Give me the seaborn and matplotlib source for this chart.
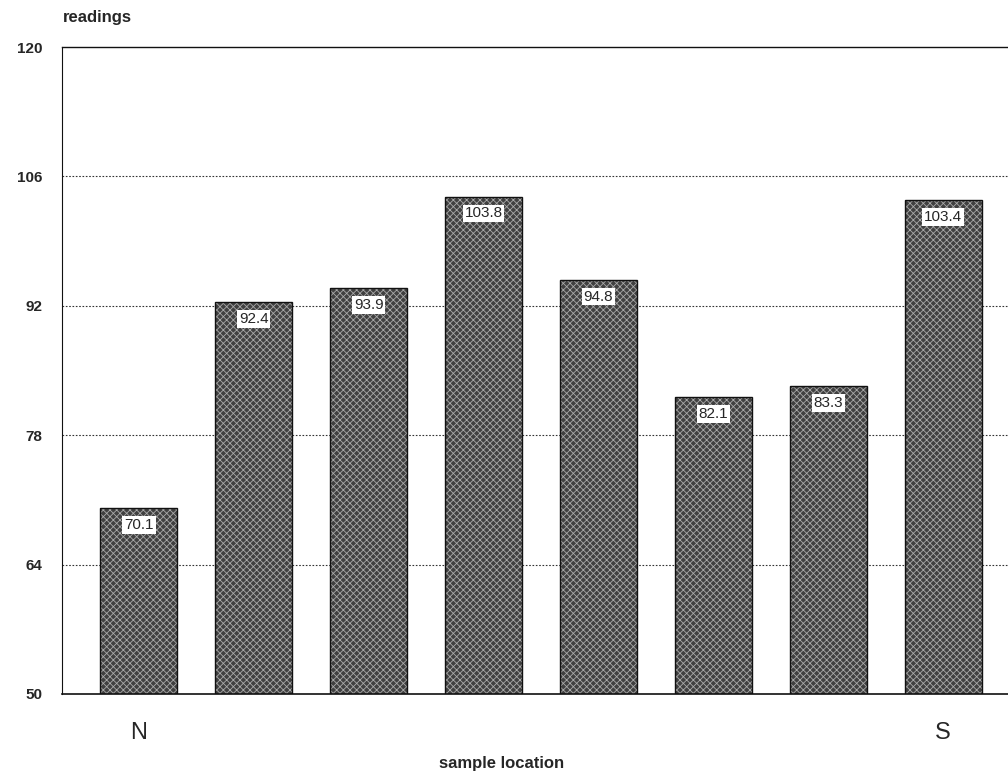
import matplotlib
matplotlib.use("Agg")
import matplotlib.pyplot as plt
import seaborn as sns
import pandas as pd

# data
locations = ["N", "2", "3", "4", "5", "6", "7", "S"]
readings = [70.1, 92.4, 93.9, 103.8, 94.8, 82.1, 83.3, 103.4]
tick_labels = ["N", "", "", "", "", "", "", "S"]
y_ticks = [50, 64, 78, 92, 106, 120]

sns.set_style("white")
plt.rcParams['font.family'] = ['Liberation Sans', 'DejaVu Sans']
plt.rcParams['hatch.color'] = '#a8a8a8'
plt.rcParams['hatch.linewidth'] = 0.6

df = pd.DataFrame({"location": locations, "reading": readings})

fig = plt.figure(figsize=(10.08, 7.8), dpi=100)
ax = fig.add_axes([0.0615, 0.1103, 0.9385, 0.8294])

sns.barplot(data=df, x="location", y="reading", color="#404040",
            width=0.67, saturation=1, ax=ax)
for p in ax.patches:
    p.set_hatch("xxxxx")
    p.set_edgecolor("#a8a8a8")
    p.set_linewidth(0)
    # black outline drawn separately
    ax.add_patch(plt.Rectangle(p.get_xy(), p.get_width(), p.get_height(),
                               fill=False, edgecolor="#111111", linewidth=1.0, zorder=3))

ax.set_ylim(50, 120)
ax.set_xlim(-0.67, 7.565)
ax.set_yticks(y_ticks)
ax.set_yticklabels([str(t) for t in y_ticks], fontsize=11, fontweight="bold")
ax.set_xticks(range(len(locations)))
ax.set_xticklabels(tick_labels, fontsize=17)
ax.tick_params(axis="y", length=0, pad=14)
ax.tick_params(axis="x", length=0, pad=20)

for y in y_ticks[1:-1]:
    ax.axhline(y, color="#333333", linestyle=(0, (1.5, 1.5)), linewidth=0.8, zorder=0)

for i, v in enumerate(readings):
    ax.annotate(f"{v}", (i, v), xytext=(0, -12), textcoords="offset points",
                ha="center", va="center", fontsize=11, zorder=5,
                bbox=dict(boxstyle="square,pad=0.12", fc="white", ec="none"))

ax.spines["right"].set_visible(False)
ax.spines["top"].set_linewidth(1.0)
ax.spines["bottom"].set_linewidth(1.2)
ax.spines["left"].set_linewidth(0.8)
ax.spines["left"].set_linestyle((0, (1, 1)))
for s in ["top", "bottom", "left"]:
    ax.spines[s].set_color("#111111")

ax.set_xlabel("sample location", fontsize=12, fontweight="bold")
ax.xaxis.set_label_coords(0.465, -0.096)
ax.set_ylabel("")
fig.text(0.0625, 0.977, "readings", fontsize=12, fontweight="bold", ha="left", va="center")

fig.savefig("out.png", dpi=100)
